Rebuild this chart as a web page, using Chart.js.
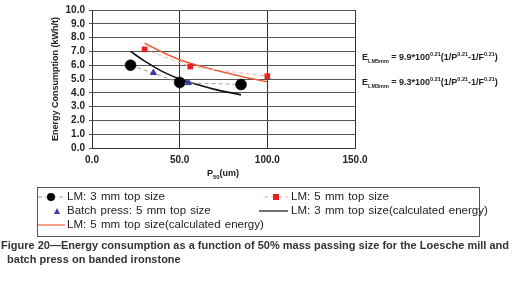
<!DOCTYPE html>
<html>
<head>
<meta charset="utf-8">
<script src="https://cdn.jsdelivr.net/npm/chart.js@4/dist/chart.umd.min.js"></script>
<style>
  body { margin: 0; background: #fff; font-family: "Liberation Sans", Arial, sans-serif; }
  #wrap { position: relative; width: 520px; height: 285px; overflow: hidden; }
  #c { position: absolute; left: 0; top: 0; }
  .eq { position: absolute; left: 362px; font-size: 9px; font-weight: bold; color: #222; white-space: nowrap; }
  .eq sub, .eq sup { font-size: 5.5px; }
  #xt { position: absolute; top: 168px; left: 0; width: 446px; text-align: center; font-size: 9px; font-weight: bold; color: #222; }
  #legend { position: absolute; left: 37px; top: 187px; width: 443px; height: 50px; border: 1px solid #555; box-sizing: border-box; }
  .li { position: absolute; font-size: 11.5px; word-spacing: 1px; color: #222; white-space: nowrap; }
  .li svg { position: absolute; }
  #cap { position: absolute; left: 1px; top: 238px; font-size: 11px; font-weight: bold; color: #333; line-height: 14px; white-space: nowrap; }
</style>
</head>
<body>
<div id="wrap">
  <canvas id="c" width="520" height="172"></canvas>
  <div class="eq" style="top:51px">E<sub>LM5mm</sub> = 9.9*100<sup>0.21</sup>(1/P<sup>0.21</sup>-1/F<sup>0.21</sup>)</div>
  <div class="eq" style="top:76px">E<sub>LM3mm</sub> = 9.3*100<sup>0.21</sup>(1/P<sup>0.21</sup>-1/F<sup>0.21</sup>)</div>
  <div id="xt">P<sub style="font-size:6px">50</sub>(um)</div>
  <div id="legend"></div>
  <div id="cap">Figure 20—Energy consumption as a function of 50% mass passing size for the Loesche mill and<br>&nbsp;&nbsp;batch press on banded ironstone</div>
</div>
<script>
// measured points
var lm3x = [22, 50, 85];
var lm3y = [6.0, 4.75, 4.6];
var lm5x = [30, 56, 100];
var lm5y = [7.15, 5.9, 5.2];
var bpx = [35, 55];
var bpy = [5.45, 4.72];
// calculated energy curves
var calc3x = [22, 30, 40, 50, 60, 70, 85];
var calc3y = [7.0, 6.3, 5.55, 5.0, 4.6, 4.25, 3.85];
var calc5x = [30, 40, 50, 60, 70, 80, 90, 100];
var calc5y = [7.6, 6.95, 6.4, 6.0, 5.65, 5.35, 5.05, 4.8];
var xTicks = [0, 50, 100, 150];
var yTicks = [0, 1, 2, 3, 4, 5, 6, 7, 8, 9, 10];

function pts(xs, ys) {
  var out = [];
  for (var i = 0; i < xs.length; i++) out.push({x: xs[i], y: ys[i]});
  return out;
}

var tickFont = { size: 10, weight: 'bold', family: 'Liberation Sans' };

var ctx = document.getElementById("c");
new Chart(ctx, {
  type: 'scatter',
  data: {
    datasets: [
      { label: 'LM: 5 mm top size(calculated energy)', data: pts(calc5x, calc5y), showLine: true, pointRadius: 0,
        borderColor: '#e8603a', borderWidth: 1.6, tension: 0.4, order: 5 },
      { label: 'LM: 3 mm top size(calculated energy)', data: pts(calc3x, calc3y), showLine: true, pointRadius: 0,
        borderColor: '#111', borderWidth: 1.6, tension: 0.4, order: 4 },
      { label: 'LM: 5 mm top size', data: pts(lm5x, lm5y), showLine: true, borderDash: [4, 3],
        borderColor: '#f5b0a8', borderWidth: 1, pointStyle: 'rect', pointRadius: 4, pointBorderWidth: 0,
        pointBackgroundColor: '#e82020', pointBorderColor: '#e82020', order: 3 },
      { label: 'LM: 3 mm top size', data: pts(lm3x, lm3y), showLine: true, borderDash: [4, 3],
        borderColor: '#a0a0a0', borderWidth: 1, pointRadius: 5.5, pointBorderWidth: 0.5,
        pointBackgroundColor: '#000', pointBorderColor: '#000', order: 2 },
      { label: 'Batch press: 5 mm top size', data: pts(bpx, bpy), showLine: false, pointStyle: 'triangle', pointRadius: 3.5,
        pointBackgroundColor: '#3a3aa8', pointBorderColor: '#3a3aa8', order: 1 }
    ]
  },
  options: {
    responsive: false,
    animation: false,
    layout: { padding: { top: -1, right: 165, bottom: 0, left: 50 } },
    plugins: { legend: { display: false }, tooltip: { enabled: false } },
    scales: {
      x: {
        type: 'linear', min: 0, max: 150,
        afterBuildTicks: function (s) { s.ticks = xTicks.map(function (v) { return {value: v}; }); },
        ticks: { callback: function (v) { return v.toFixed(1); }, color: '#222', font: tickFont, padding: 6 },
        grid: { color: '#333', lineWidth: 1, drawTicks: false },
        border: { color: '#333' }
      },
      y: {
        min: 0, max: 10,
        afterBuildTicks: function (s) { s.ticks = yTicks.map(function (v) { return {value: v}; }); },
        ticks: { autoSkip: false, callback: function (v) { return v.toFixed(1); }, color: '#222', font: tickFont, padding: 4 },
        grid: { color: '#555', lineWidth: 1, drawTicks: true, tickLength: 3 },
        border: { color: '#333' },
        title: { display: true, text: 'Energy Consumption (kWh/t)', color: '#222', font: { size: 9, weight: 'bold', family: 'Liberation Sans' }, padding: 0 },
        afterFit: function (s) { s.width = 42; }
      }
    }
  }
});

// legend drawn as html
var legendItems = [
  { x: 0, y: 2, text: 'LM: 3 mm top size', svg: '<line x1="0" y1="6" x2="26" y2="6" stroke="#a0a0a0" stroke-dasharray="4,3"/><circle cx="13" cy="6" r="4" fill="#000"/>', sw: 26, tx: 29 },
  { x: 226, y: 2, text: 'LM: 5 mm top size', svg: '<line x1="0" y1="6" x2="24" y2="6" stroke="#f5b0a8" stroke-dasharray="4,3"/><rect x="9" y="3" width="6" height="6" fill="#e82020"/>', sw: 24, tx: 27 },
  { x: 0, y: 16, text: 'Batch press: 5 mm top size', svg: '<polygon points="19,3 22,9 16,9" fill="#3a3aa8"/>', sw: 26, tx: 29 },
  { x: 221, y: 16, text: 'LM: 3 mm top size(calculated energy)', svg: '<line x1="0" y1="6" x2="29" y2="6" stroke="#111" stroke-width="1.2"/>', sw: 29, tx: 32 },
  { x: 0, y: 30, text: 'LM: 5 mm top size(calculated energy)', svg: '<line x1="0" y1="6" x2="27" y2="6" stroke="#e8603a" stroke-width="1.2"/>', sw: 27, tx: 29 }
];
var lg = document.getElementById("legend");
for (var i = 0; i < legendItems.length; i++) {
  var it = legendItems[i];
  var d = document.createElement("div");
  d.className = "li";
  d.style.left = it.x + "px";
  d.style.top = it.y + "px";
  d.innerHTML = '<svg width="' + it.sw + '" height="12" style="left:0;top:1px">' + it.svg + '</svg><span style="position:absolute;left:' + it.tx + 'px;top:0">' + it.text + '</span>';
  lg.appendChild(d);
}
</script>
</body>
</html>
